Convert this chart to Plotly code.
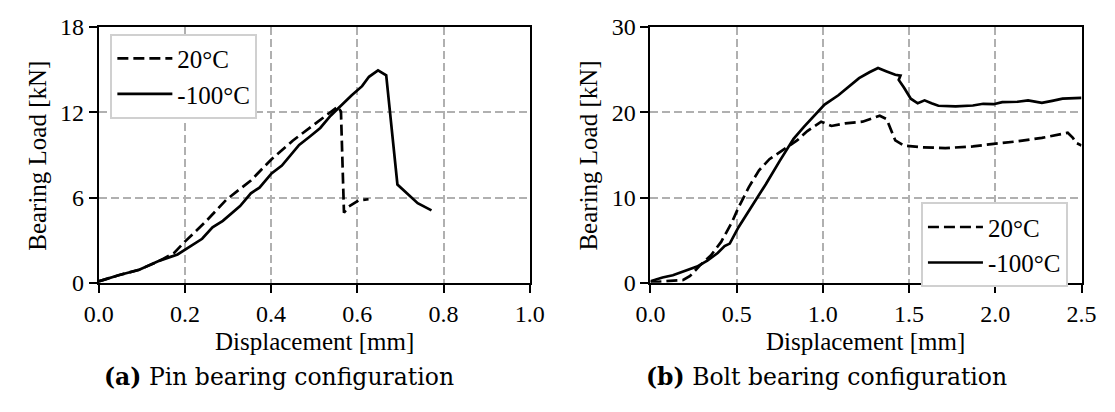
import plotly.graph_objects as go

# ---------------- data ----------------
# (a) Pin bearing configuration
pin_x_20 = [0.0, 0.046, 0.094, 0.143, 0.175, 0.200, 0.248, 0.296, 0.353, 0.401, 0.450, 0.498, 0.538, 0.555, 0.562, 0.569, 0.580, 0.603, 0.626]
pin_y_20 = [0.1, 0.53, 0.92, 1.58, 2.10, 2.90, 4.30, 5.85, 7.20, 8.70, 10.0, 11.1, 12.0, 12.4, 12.05, 4.94, 5.36, 5.80, 5.88]

pin_x_m100 = [0.0, 0.046, 0.094, 0.143, 0.183, 0.207, 0.240, 0.264, 0.288, 0.328, 0.353, 0.373, 0.401, 0.425, 0.465, 0.490, 0.514, 0.538, 0.563, 0.587, 0.611, 0.627, 0.648, 0.667, 0.693, 0.716, 0.740, 0.772]
pin_y_m100 = [0.1, 0.53, 0.92, 1.58, 2.00, 2.45, 3.10, 3.90, 4.36, 5.40, 6.30, 6.70, 7.70, 8.25, 9.70, 10.3, 10.9, 11.76, 12.5, 13.2, 13.84, 14.5, 14.95, 14.6, 6.92, 6.30, 5.60, 5.10]

# (b) Bolt bearing configuration
bolt_x_20 = [0.0, 0.07, 0.15, 0.19, 0.23, 0.29, 0.35, 0.41, 0.47, 0.51, 0.57, 0.63, 0.69, 0.77, 0.85, 0.91, 0.99, 1.05, 1.13, 1.23, 1.33, 1.37, 1.40, 1.42, 1.47, 1.57, 1.71, 1.87, 1.99, 2.13, 2.27, 2.42, 2.45, 2.47, 2.50]
bolt_y_20 = [0.07, 0.18, 0.33, 0.33, 0.80, 2.10, 3.20, 4.80, 7.00, 8.80, 11.2, 13.2, 14.5, 15.6, 16.7, 17.8, 18.9, 18.4, 18.7, 18.9, 19.6, 19.2, 17.8, 16.7, 16.1, 15.9, 15.8, 16.0, 16.3, 16.6, 17.0, 17.6, 17.0, 16.4, 16.1]

bolt_x_m100 = [0.0, 0.07, 0.13, 0.19, 0.27, 0.33, 0.39, 0.43, 0.46, 0.51, 0.59, 0.67, 0.75, 0.83, 0.89, 0.95, 1.01, 1.09, 1.21, 1.27, 1.32, 1.37, 1.42, 1.45, 1.44, 1.47, 1.51, 1.55, 1.59, 1.63, 1.67, 1.77, 1.87, 1.93, 1.99, 2.04, 2.13, 2.19, 2.27, 2.33, 2.39, 2.50]
bolt_y_m100 = [0.18, 0.62, 0.88, 1.28, 1.90, 2.60, 3.50, 4.30, 4.60, 6.50, 9.00, 11.6, 14.3, 16.9, 18.3, 19.6, 20.9, 22.0, 24.0, 24.7, 25.2, 24.8, 24.4, 24.3, 23.8, 22.9, 21.6, 21.06, 21.4, 21.06, 20.77, 20.7, 20.8, 21.0, 20.95, 21.2, 21.24, 21.4, 21.1, 21.35, 21.6, 21.7]

series_names = ["20°C", "-100°C"]
pin_xticks = [0.0, 0.2, 0.4, 0.6, 0.8, 1.0]
pin_yticks = [0, 6, 12, 18]
bolt_xticks = [0.0, 0.5, 1.0, 1.5, 2.0, 2.5]
bolt_yticks = [0, 10, 20, 30]
x_title = "Displacement [mm]"
y_title = "Bearing Load [kN]"
captions = ["<b>(a)</b> Pin bearing configuration", "<b>(b)</b> Bolt bearing configuration"]

# ---------------- figure ----------------
W, H = 1115, 412
FONT = "Liberation Serif"
CAP_FONT = "DejaVu Serif"
FS = 25
TICK_FS = 24
LW = 2.7
DASH = "11px,5px"

fig = go.Figure()
fig.add_trace(go.Scatter(x=pin_x_20, y=pin_y_20, mode="lines", name=series_names[0],
                         line=dict(color="black", width=LW, dash=DASH), xaxis="x", yaxis="y", legend="legend"))
fig.add_trace(go.Scatter(x=pin_x_m100, y=pin_y_m100, mode="lines", name=series_names[1],
                         line=dict(color="black", width=LW), xaxis="x", yaxis="y", legend="legend"))
fig.add_trace(go.Scatter(x=bolt_x_20, y=bolt_y_20, mode="lines", name=series_names[0],
                         line=dict(color="black", width=LW, dash=DASH), xaxis="x2", yaxis="y2", legend="legend2"))
fig.add_trace(go.Scatter(x=bolt_x_m100, y=bolt_y_m100, mode="lines", name=series_names[1],
                         line=dict(color="black", width=LW), xaxis="x2", yaxis="y2", legend="legend2"))

def px_x(p):
    return p / W

def px_y(p):
    return 1 - p / H

ydom = [px_y(288), px_y(15)]
axis_common = dict(
    showline=True, linecolor="black", linewidth=2, mirror=True,
    ticks="outside", ticklen=8, tickwidth=2, tickcolor="black",
    showgrid=True, gridcolor="#b0b0b0", gridwidth=1.5, griddash="8px,4px",
    zeroline=False, tickfont=dict(family=FONT, size=TICK_FS, color="black"),
)

legend_common = dict(xanchor="left", yanchor="top", bgcolor="white",
                     bordercolor="#d0d0d0", borderwidth=2, itemwidth=55,
                     font=dict(family=FONT, size=FS, color="black"))

fig.update_layout(
    width=W, height=H,
    margin=dict(l=0, r=0, t=0, b=0),
    paper_bgcolor="white", plot_bgcolor="white",
    font=dict(family=FONT, size=FS, color="black"),
    xaxis=dict(domain=[px_x(86), px_x(529)], range=[0, 1.0], tickvals=pin_xticks,
               tickformat=".1f", anchor="y", **axis_common),
    yaxis=dict(domain=ydom, range=[0, 18], tickvals=pin_yticks, anchor="x", **axis_common),
    xaxis2=dict(domain=[px_x(653), px_x(1096)], range=[0, 2.5], tickvals=bolt_xticks,
                tickformat=".1f", anchor="y2", **axis_common),
    yaxis2=dict(domain=ydom, range=[0, 30], tickvals=bolt_yticks, anchor="x2", **axis_common),
    legend=dict(x=px_x(98), y=px_y(22), **legend_common),
    legend2=dict(x=px_x(931), y=px_y(202), **legend_common),
    showlegend=True,
)

annos = []
# y titles
for xc in (23, 589):
    annos.append(dict(text=y_title, x=px_x(xc), y=px_y(152), xref="paper", yref="paper",
                      textangle=-90, showarrow=False, xanchor="center", yanchor="middle",
                      font=dict(family=FONT, size=FS, color="black")))
# x titles
for xc in (307.5, 874.5):
    annos.append(dict(text=x_title, x=px_x(xc), y=px_y(351), xref="paper", yref="paper",
                      showarrow=False, xanchor="center", yanchor="middle",
                      font=dict(family=FONT, size=FS, color="black")))
# captions
for xc, cap in zip((271, 834), captions):
    annos.append(dict(text=cap, x=px_x(xc), y=px_y(389), xref="paper", yref="paper",
                      showarrow=False, xanchor="center", yanchor="middle",
                      font=dict(family=CAP_FONT, size=23.5, color="black")))
fig.update_layout(annotations=annos)

fig.write_html("out.html")
